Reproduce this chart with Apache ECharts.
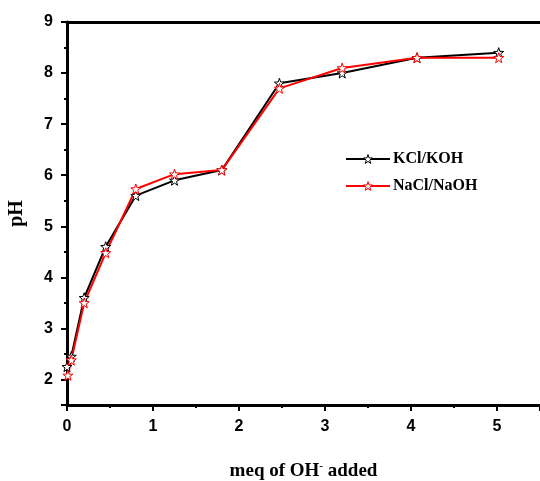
<!DOCTYPE html>
<html>
<head>
<meta charset="utf-8">
<script src="https://cdn.jsdelivr.net/npm/echarts@6/dist/echarts.min.js"></script>
<style>html,body{margin:0;padding:0;background:#fff}#c{width:540px;height:481px}</style>
</head>
<body>
<div id="c"></div>
<script>
var kclX = [0, 0.05, 0.2, 0.45, 0.8, 1.25, 1.8, 2.47, 3.2, 4.07, 5.02];
var kclY = [2.25, 2.45, 3.6, 4.6, 5.6, 5.9, 6.1, 7.8, 8.0, 8.3, 8.4];
var naX = [0.01, 0.05, 0.2, 0.45, 0.8, 1.25, 1.8, 2.47, 3.2, 4.07, 5.02];
var naY = [2.08, 2.38, 3.5, 4.48, 5.73, 6.02, 6.1, 7.7, 8.1, 8.3, 8.3];
var seriesNames = ['KCl/KOH', 'NaCl/NaOH'];
var seriesColors = ['#000000', '#ff0000'];
var yTitle = 'pH';

var star = 'path://M0,-10 L2.35,-3.24 L9.51,-3.09 L3.8,1.24 L5.88,8.09 L0,4 L-5.88,8.09 L-3.8,1.24 L-9.51,-3.09 L-2.35,-3.24 Z';
function pairs(xs, ys) { return xs.map(function (x, i) { return [x, ys[i]]; }); }
var tickFont = { fontFamily: 'Liberation Sans', fontWeight: 'bold', fontSize: 16, color: '#000' };
function intOnly(v) { return Math.abs(v - Math.round(v)) < 1e-9 ? String(Math.round(v)) : ''; }

var chart = echarts.init(document.getElementById('c'));
chart.setOption({
  animation: false,
  backgroundColor: '#fff',
  grid: { left: 67, right: 0, top: 22, bottom: 76, containLabel: false, outerBoundsMode: 'none' },
  legend: {
    left: 345, top: 151, padding: 0, orient: 'vertical', itemGap: 11, itemWidth: 44, itemHeight: 11,
    data: seriesNames.map(function (n, i) {
      return { name: n, itemStyle: { color: '#fff', borderColor: seriesColors[i], borderWidth: 1 } };
    }),
    textStyle: { fontFamily: 'Liberation Serif', fontWeight: 'bold', fontSize: 16, color: '#000', padding: [0, 0, 0, -2] }
  },
  xAxis: [
    {
      type: 'value', min: 0, max: 5.5, splitNumber: 6, position: 'bottom',
      name: '{t|meq of OH}{s|-}{t| added}', nameLocation: 'middle', nameGap: 56,
      nameTextStyle: {
        rich: {
          t: { fontFamily: 'Liberation Serif', fontWeight: 'bold', fontSize: 19, color: '#000' },
          s: { fontFamily: 'Liberation Serif', fontWeight: 'bold', fontSize: 11, color: '#000', verticalAlign: 'top', padding: [0, 0, 10, 0] }
        }
      },
      axisLine: { show: true, lineStyle: { color: '#000', width: 3 } },
      axisTick: { show: true, inside: false, length: 6, lineStyle: { color: '#000', width: 2 } },
      axisLabel: Object.assign({ margin: 14, formatter: intOnly }, tickFont),
      splitLine: { show: false }
    },
    {
      type: 'value', min: 0, max: 5.5, interval: 0.5, position: 'bottom',
      axisLine: { show: false },
      axisTick: { show: true, length: 3, lineStyle: { color: '#000', width: 2 } },
      axisLabel: { show: false }, splitLine: { show: false }
    },
    {
      type: 'value', min: 0, max: 5.5, position: 'top',
      axisLine: { show: true, lineStyle: { color: '#000', width: 3 } },
      axisTick: { show: false }, axisLabel: { show: false }, splitLine: { show: false }
    }
  ],
  yAxis: [
    {
      type: 'value', min: 1.5, max: 9, splitNumber: 8,
      name: yTitle, nameLocation: 'middle', nameGap: 40, nameRotate: 90,
      nameTextStyle: { fontFamily: 'Liberation Serif', fontWeight: 'bold', fontSize: 20, color: '#000' },
      axisLine: { show: true, lineStyle: { color: '#000', width: 3 } },
      axisTick: { show: true, length: 6, lineStyle: { color: '#000', width: 2 } },
      axisLabel: Object.assign({ margin: 14, formatter: intOnly }, tickFont),
      splitLine: { show: false }
    },
    {
      type: 'value', min: 1.5, max: 9, interval: 0.5, position: 'left',
      axisLine: { show: false },
      axisTick: { show: true, length: 3, lineStyle: { color: '#000', width: 2 } },
      axisLabel: { show: false }, splitLine: { show: false }
    }
  ],
  series: [0, 1].map(function (i) {
    var xs = i === 0 ? kclX : naX, ys = i === 0 ? kclY : naY;
    return {
      name: seriesNames[i], type: 'line', xAxisIndex: 0, yAxisIndex: 0,
      data: pairs(xs, ys), symbol: star, symbolSize: 10, showAllSymbol: true,
      lineStyle: { color: seriesColors[i], width: 2 },
      itemStyle: { color: '#fff', borderColor: seriesColors[i], borderWidth: 1 }
    };
  })
});
</script>
</body>
</html>
